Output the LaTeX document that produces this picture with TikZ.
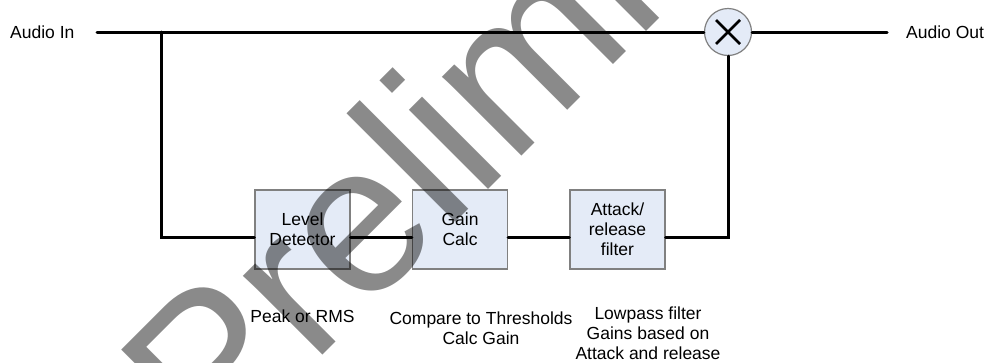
\documentclass[tikz,border=0pt]{standalone}
\usepackage{fontspec}
\setmainfont{Liberation Sans}
\usetikzlibrary{positioning}
\definecolor{boxfill}{RGB}{228,235,247}
\definecolor{boxline}{RGB}{128,128,128}
\begin{document}
\begin{tikzpicture}[x=1pt,y=-1pt,node distance=157.5pt,on grid,
  wire/.style={line width=3pt,line cap=round},
  blk/.style={draw=boxline,fill=boxfill,line width=1.2pt,minimum width=95pt,minimum height=79pt,inner sep=0pt,align=center,font=\fontsize{17.5}{20}\selectfont},
  lbl/.style={inner sep=0pt,align=center,font=\fontsize{17.5}{20}\selectfont},
  mul/.style={circle,draw=boxline,fill=boxfill,line width=1.2pt,minimum size=47pt,inner sep=0pt},
  wm/.style={inner sep=0pt,text=black,text opacity=0.46,font=\fontsize{212}{212}\selectfont}]
\useasboundingbox (0,0) rectangle (985,362);
\node[lbl,anchor=west] (in) at (10,32) {Audio In};
\coordinate (ain) at (97,32);
\coordinate (tap) at (161,32);
\node[mul] (mult) at (728,32) {};
\coordinate (aout) at (887,32);
\node[lbl,anchor=west] (out) at (906,32) {Audio Out};
\node[blk] (ld) at (302.5,229.5) {Level\\Detector};
\node[blk] (gc) [right=of ld] {Gain\\Calc};
\node[blk] (ar) [right=of gc] {Attack/\\release\\filter};
\node[lbl] (ldnote) at (302.5,316.5) {Peak or RMS};
\node[lbl] (gcnote) at (481,328.5) {Compare to Thresholds\\Calc Gain};
\node[lbl] (arnote) at (648,333) {Lowpass filter\\Gains based on\\Attack and release};
\coordinate (fb) at (161,237);
\draw[wire] (ain) -- (mult);
\draw[wire] (mult) -- (aout);
\draw[wire] (tap) -- (fb) -- (fb -| ld.west);
\draw[wire] (ld.east |- fb) -- (gc.west |- fb);
\draw[wire] (gc.east |- fb) -- (ar.west |- fb);
\draw[wire] (ar.east |- fb) -| (mult);
\draw[line width=2.5pt] ([shift={(-12,-12)}]mult.center) -- ([shift={(12,12)}]mult.center)
  ([shift={(-12,12)}]mult.center) -- ([shift={(12,-12)}]mult.center);
\begin{scope}
\clip (0,0) rectangle (985,362);
\node[wm,rotate=45,anchor=base west] (wmark) at (212,466) {Preliminary};
\end{scope}
\end{tikzpicture}
\end{document}
